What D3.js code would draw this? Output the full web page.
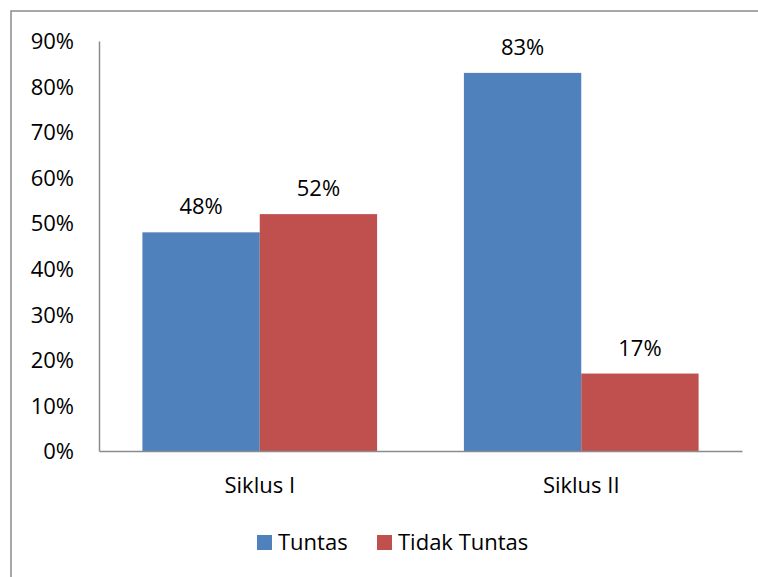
<!DOCTYPE html>
<html>
<head>
<meta charset="utf-8">
<script src="https://cdn.jsdelivr.net/npm/d3@7"></script>
<style>
  body { margin: 0; background: #fff; }
  text { font-family: "Open Sans", "Noto Sans", sans-serif; fill: #000; }
</style>
</head>
<body>
<div id="chart"></div>
<script>
// Data
var categories = ["Siklus I", "Siklus II"];
var series = ["Tuntas", "Tidak Tuntas"];
var tuntas = [0.48, 0.83];
var tidakTuntas = [0.52, 0.17];
var yTicks = [0, 0.1, 0.2, 0.3, 0.4, 0.5, 0.6, 0.7, 0.8, 0.9];
var colors = ["#4F81BD", "#C0504D"];

var W = 758, H = 577;
var margin = { top: 41, right: 16, bottom: 126, left: 99 },
    width = W - margin.left - margin.right,
    height = H - margin.top - margin.bottom;

var svg = d3.select("#chart").append("svg")
    .attr("width", W)
    .attr("height", H);

// outer frame (cut at right and bottom of the picture)
svg.append("rect")
    .attr("x", 11).attr("y", 11)
    .attr("width", W + 20).attr("height", H + 20)
    .attr("fill", "none")
    .attr("stroke", "#8c8c8c")
    .attr("stroke-width", 1.5);

var g = svg.append("g")
    .attr("transform", "translate(" + margin.left + "," + margin.top + ")");

var rows = categories.map(function(c, i) {
    return { cat: c, values: [tuntas[i], tidakTuntas[i]] };
});

var x0 = d3.scaleBand().domain(categories).range([0, width])
    .paddingInner(0.27).paddingOuter(0.135);
var x1 = d3.scaleBand().domain(series).range([0, x0.bandwidth()]);
var y = d3.scaleLinear().domain([0, 0.9]).range([height, 0]);

// y axis
var yAxis = g.append("g")
    .call(d3.axisLeft(y).tickValues(yTicks).tickSize(0).tickPadding(25)
        .tickFormat(d3.format(".0%")));
yAxis.select(".domain").attr("stroke", "#8c8c8c").attr("stroke-width", 1.5);
yAxis.selectAll("text").style("font-size", "22px").attr("dy", "0.35em");

// bars
var groups = g.selectAll(".grp").data(rows).enter().append("g")
    .attr("transform", function(d) { return "translate(" + x0(d.cat) + ",0)"; });

groups.selectAll("rect")
    .data(function(d) { return d.values.map(function(v, i) { return { s: series[i], v: v, i: i }; }); })
    .enter().append("rect")
    .attr("x", function(d) { return x1(d.s); })
    .attr("y", function(d) { return y(d.v); })
    .attr("width", x1.bandwidth())
    .attr("height", function(d) { return height - y(d.v); })
    .attr("fill", function(d) { return colors[d.i]; });

groups.selectAll(".lbl")
    .data(function(d) { return d.values.map(function(v, i) { return { s: series[i], v: v, i: i }; }); })
    .enter().append("text")
    .attr("x", function(d) { return x1(d.s) + x1.bandwidth() / 2; })
    .attr("y", function(d) { return y(d.v) - 18; })
    .attr("text-anchor", "middle")
    .style("font-size", "22px")
    .text(function(d) { return Math.round(d.v * 100) + "%"; });

// x axis
var xAxis = g.append("g")
    .attr("transform", "translate(0," + height + ")")
    .call(d3.axisBottom(x0).tickSize(0).tickPadding(26).tickSizeOuter(0));
xAxis.select(".domain").attr("stroke", "#8c8c8c").attr("stroke-width", 1.5);
xAxis.selectAll("text").style("font-size", "22px");

// legend
var legendX = [257, 377];
var legend = svg.selectAll(".legend").data(series).enter().append("g")
    .attr("transform", function(d, i) { return "translate(" + legendX[i] + ",535)"; });
legend.append("rect")
    .attr("width", 15).attr("height", 15)
    .attr("fill", function(d, i) { return colors[i]; });
legend.append("text")
    .attr("x", 21).attr("y", 15)
    .style("font-size", "22px")
    .text(function(d) { return d; });
</script>
</body>
</html>
